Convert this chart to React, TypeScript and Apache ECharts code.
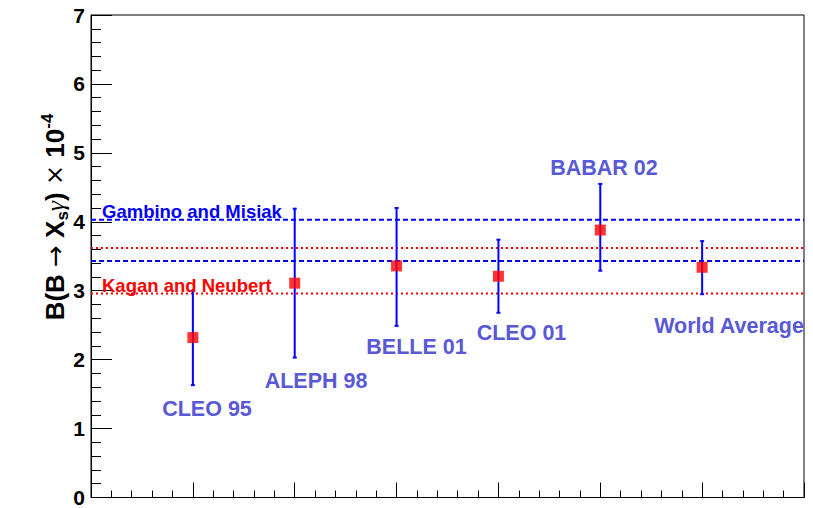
import React, { useEffect, useRef } from "react";
import * as echarts from "echarts";

// ---- data ----
const experiments = ["CLEO 95", "ALEPH 98", "BELLE 01", "CLEO 01", "BABAR 02", "World Average"];
const xPositions = [1, 2, 3, 4, 5, 6];
const centralValues = [2.32, 3.11, 3.36, 3.21, 3.88, 3.34];
const lowerBounds = [1.63, 2.03, 2.49, 2.68, 3.29, 2.95];
const upperBounds = [3.0, 4.19, 4.2, 3.74, 4.55, 3.72];
const gambinoMisiakBand = [3.43, 4.03];
const kaganNeubertBand = [2.96, 3.62];
const yTicks = [0, 1, 2, 3, 4, 5, 6, 7];

// ---- layout (pixels) ----
const FONT = "'Liberation Sans', Arial, Helvetica, sans-serif";
const expLabelPos: [number, number][] = [
  [207, 409],
  [316, 381],
  [416.5, 346.5],
  [521.5, 333],
  [604, 167.5],
  [729, 325.5],
];

export default function App() {
  const ref = useRef<HTMLDivElement>(null);
  useEffect(() => {
    if (!ref.current) return;
    const chart = echarts.init(ref.current, undefined, { renderer: "svg" });

    const bandLine = (name: string, y: number, color: string, dash: number[]) => ({
      name,
      type: "line",
      data: [
        [0, y],
        [7, y],
      ],
      symbol: "none",
      silent: true,
      lineStyle: { color, width: 2, type: dash },
      z: 3,
    });

    const option: any = {
      animation: false,
      backgroundColor: "#ffffff",
      grid: {
        left: 91,
        right: 9,
        top: 15,
        bottom: 7,
        show: true,
        borderColor: "#000",
        borderWidth: 1,
        backgroundColor: "transparent",
      },
      xAxis: {
        type: "value",
        min: 0,
        max: 7,
        interval: 1,
        axisLine: { show: true, lineStyle: { color: "#000", width: 1 } },
        axisTick: { show: true, inside: true, length: 15, lineStyle: { color: "#000" } },
        minorTick: { show: true, splitNumber: 5, length: 7, lineStyle: { color: "#000" } },
        axisLabel: { show: false },
        splitLine: { show: false },
      },
      yAxis: {
        type: "value",
        min: yTicks[0],
        max: yTicks[yTicks.length - 1],
        interval: 1,
        axisLine: { show: true, lineStyle: { color: "#000", width: 1 } },
        axisTick: { show: true, inside: true, length: 21, lineStyle: { color: "#000" } },
        minorTick: { show: true, splitNumber: 5, length: 10, lineStyle: { color: "#000" } },
        axisLabel: {
          show: true,
          margin: 6,
          color: "#000",
          fontFamily: FONT,
          fontWeight: "bold",
          fontSize: 21,
        },
        splitLine: { show: false },
      },
      series: [
        bandLine("Gambino and Misiak low", gambinoMisiakBand[0], "#0000ff", [5, 3]),
        bandLine("Gambino and Misiak high", gambinoMisiakBand[1], "#0000ff", [5, 3]),
        bandLine("Kagan and Neubert low", kaganNeubertBand[0], "#ff0000", [2, 3]),
        bandLine("Kagan and Neubert high", kaganNeubertBand[1], "#ff0000", [2, 3]),
        {
          name: "errors",
          type: "custom",
          data: xPositions.map((x, i) => [x, lowerBounds[i], upperBounds[i]]),
          renderItem: (params: any, api: any) => {
            const x = api.value(0);
            const lo = api.coord([x, api.value(1)]);
            const hi = api.coord([x, api.value(2)]);
            const style = { stroke: "#0000ff", lineWidth: 2 };
            return {
              type: "group",
              children: [
                { type: "line", shape: { x1: lo[0], y1: lo[1], x2: hi[0], y2: hi[1] }, style },
                { type: "line", shape: { x1: lo[0] - 2, y1: lo[1], x2: lo[0] + 2, y2: lo[1] }, style },
                { type: "line", shape: { x1: hi[0] - 2, y1: hi[1], x2: hi[0] + 2, y2: hi[1] }, style },
              ],
            };
          },
          z: 4,
        },
        {
          name: "measurements",
          type: "scatter",
          data: xPositions.map((x, i) => [x, centralValues[i]]),
          symbol: "rect",
          symbolSize: 11,
          itemStyle: { color: "#ff0000" },
          z: 5,
        },
      ],
      graphic: [
        {
          type: "text",
          x: 55,
          y: 217,
          rotation: Math.PI / 2,
          style: {
            text: "{m|B(B }{a|→}{m| X}{s|s}{g|γ}{m|) }{x|×}{m| 10}{p|-4}",
            align: "center",
            verticalAlign: "middle",
            fill: "#000",
            rich: {
              m: { fontFamily: FONT, fontWeight: "bold", fontSize: 26, lineHeight: 32, color: "#000" },
              a: { fontFamily: "'DejaVu Sans', sans-serif", fontWeight: "normal", fontSize: 26, lineHeight: 32, color: "#000" },
              x: { fontFamily: "'DejaVu Sans', sans-serif", fontWeight: "normal", fontSize: 24, lineHeight: 32, color: "#000" },
              s: { fontFamily: FONT, fontWeight: "bold", fontSize: 17, lineHeight: 19, verticalAlign: "bottom", color: "#000" },
              g: { fontFamily: "'Liberation Serif', serif", fontStyle: "italic", fontSize: 26, lineHeight: 32, color: "#000" },
              p: { fontFamily: FONT, fontWeight: "bold", fontSize: 17, lineHeight: 15, verticalAlign: "top", color: "#000" },
            },
          },
        },
        {
          type: "text",
          x: 102,
          y: 211,
          style: {
            text: "Gambino and Misiak",
            font: `bold 18.5px ${FONT}`,
            fill: "#0000ff",
            align: "left",
            verticalAlign: "middle",
          },
          z: 10,
        },
        {
          type: "text",
          x: 102,
          y: 285.5,
          style: {
            text: "Kagan and Neubert",
            font: `bold 18.5px ${FONT}`,
            fill: "#ff0000",
            align: "left",
            verticalAlign: "middle",
          },
          z: 10,
        },
        ...experiments.map((name, i) => ({
          type: "text",
          x: expLabelPos[i][0],
          y: expLabelPos[i][1],
          style: {
            text: name,
            font: `bold 21.5px ${FONT}`,
            fill: "#5959d6",
            align: "center",
            verticalAlign: "middle",
          },
          z: 10,
        })),
      ],
    };
    chart.setOption(option);
    return () => chart.dispose();
  }, []);

  return (
    <div
      ref={ref}
      style={{ position: "absolute", left: 0, top: 0, width: 813, height: 508, background: "#fff" }}
    />
  );
}
